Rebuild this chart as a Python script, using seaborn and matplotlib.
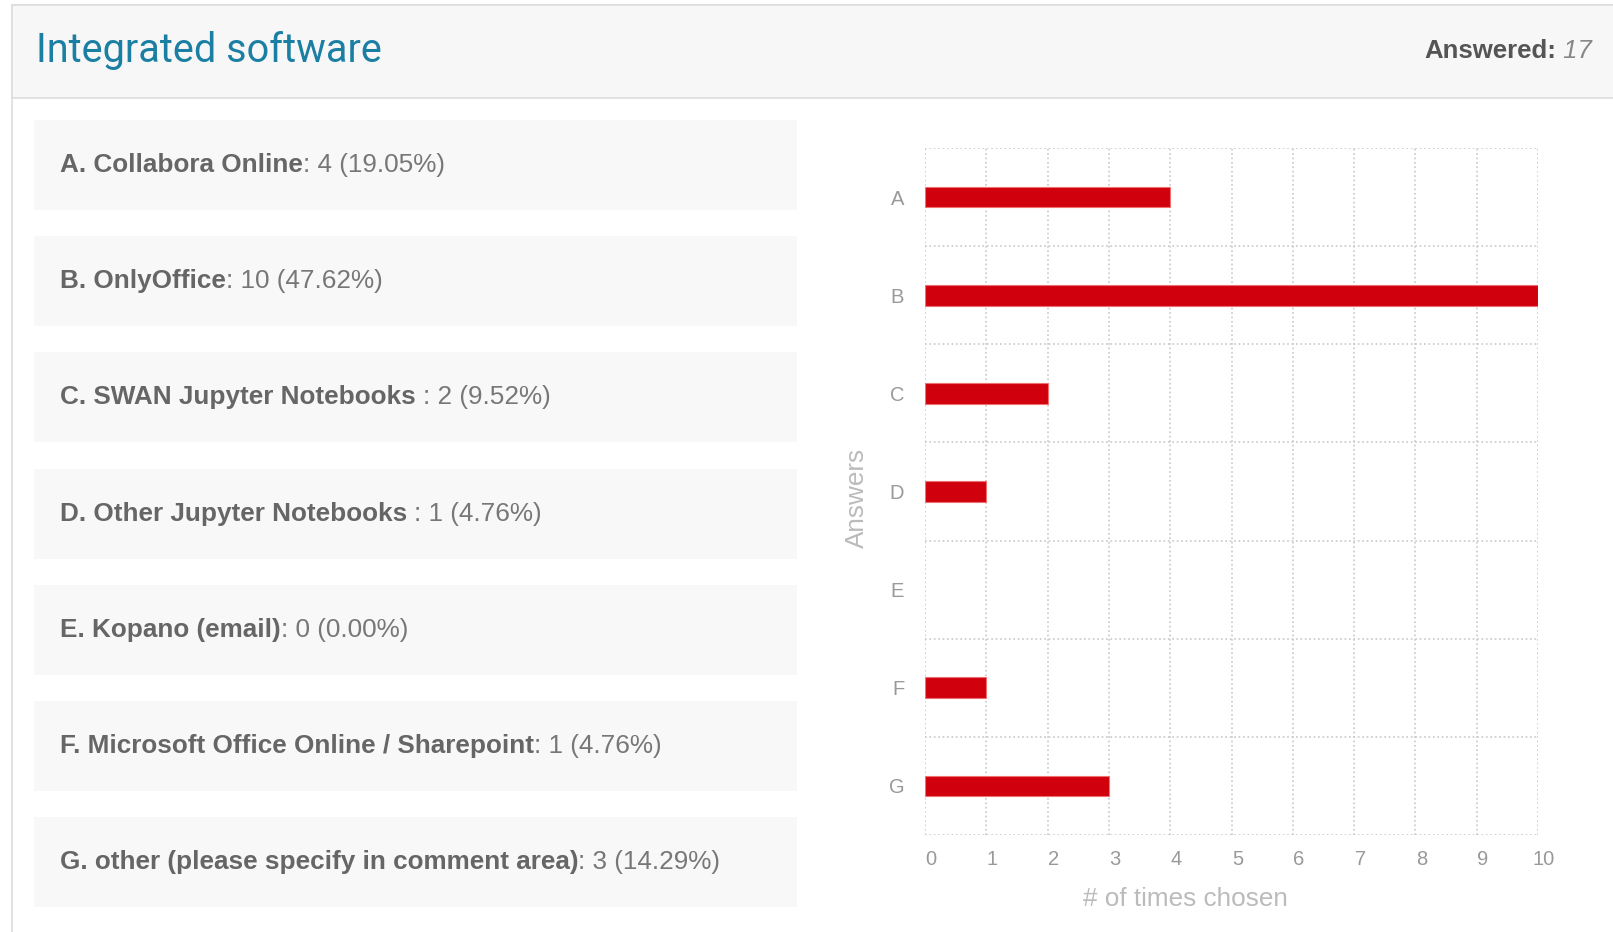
import numpy as np
import pandas as pd
import matplotlib
matplotlib.use("Agg")
import matplotlib.pyplot as plt
import matplotlib.transforms as mtransforms
import seaborn as sns
from matplotlib.patches import Rectangle

# survey answers
letters = ["A", "B", "C", "D", "E", "F", "G"]
answer_names = [
    "A. Collabora Online",
    "B. OnlyOffice",
    "C. SWAN Jupyter Notebooks ",
    "D. Other Jupyter Notebooks ",
    "E. Kopano (email)",
    "F. Microsoft Office Online / Sharepoint",
    "G. other (please specify in comment area)",
]
counts = [4, 10, 2, 1, 0, 1, 3]
percents = [19.05, 47.62, 9.52, 4.76, 0.00, 4.76, 14.29]
answered = 17
x_ticks = list(range(0, 11))

W, H = 1613, 932
sns.set_theme(style="white")
plt.rcParams["font.family"] = ["Liberation Sans", "DejaVu Sans"]

fig = plt.figure(figsize=(W / 100, H / 100), dpi=100)
fig.patch.set_facecolor("white")

# page layer in pixel coordinates
bg = fig.add_axes([0, 0, 1, 1])
bg.set_xlim(0, W)
bg.set_ylim(H, 0)
bg.axis("off")

# outer panel + header
bg.add_patch(Rectangle((12, 5), W, H, facecolor="white", edgecolor="#dddddd", lw=1.2))
bg.add_patch(Rectangle((12, 5), W, 93, facecolor="#f7f7f7", edgecolor="#dddddd", lw=1.2))
bg.text(36, 51, "Integrated software", color="#1a7fa3", fontsize=28.5,
        family=["Roboto", "DejaVu Sans"], va="center", ha="left")
t17 = bg.text(1592, 51, f" {answered}", color="#888888", fontsize=18.5, style="italic",
              va="center", ha="right")
fig.canvas.draw()
ext = t17.get_window_extent(fig.canvas.get_renderer())
x17 = bg.transData.inverted().transform((ext.x0, ext.y0))[0]
bg.text(x17, 51, "Answered:", color="#555555", fontsize=18.5, weight="bold",
        va="center", ha="right")

# answer boxes on the left
box_top, box_step, box_h = 120, 116.2, 90
for i, (name, c, p) in enumerate(zip(answer_names, counts, percents)):
    y = box_top + box_step * i
    bg.add_patch(Rectangle((34, y), 763, box_h, facecolor="#f8f8f8", edgecolor="none"))
    t = bg.text(60, y + box_h / 2, name, color="#666666", fontsize=18.8,
                weight="bold", va="center", ha="left")
    fig.canvas.draw()
    e = t.get_window_extent(fig.canvas.get_renderer())
    xr = bg.transData.inverted().transform((e.x1, e.y0))[0]
    bg.text(xr, y + box_h / 2, f": {c} ({p:.2f}%)", color="#777777", fontsize=18.8,
            va="center", ha="left")

# bar chart
df = pd.DataFrame({"answer": letters, "count": counts})
left, right, top, bottom = 925, 1538, 148, 835
ax = fig.add_axes([left / W, 1 - bottom / H, (right - left) / W, (bottom - top) / H])
ax.set_facecolor("none")
sns.barplot(data=df, x="count", y="answer", orient="h", color="#d0000c",
            saturation=1, width=0.21, edgecolor="#ef7070", linewidth=0.8, ax=ax)
for bar in ax.patches:
    if bar.get_width() == 0:
        bar.set_visible(False)
ax.set_xlim(0, 10)
ax.set_ylim(6.5, -0.5)
ax.set_xticks(x_ticks)
ax.set_yticks(np.arange(-0.5, 7, 1), minor=True)
ax.grid(axis="x", which="major", ls=":", color="#c8c8c8", lw=1.2)
ax.grid(axis="y", which="minor", ls=":", color="#c8c8c8", lw=1.2)
ax.set_axisbelow(True)
for s in ax.spines.values():
    s.set_visible(False)
ax.tick_params(axis="y", which="both", length=0, pad=15, labelsize=14.5, labelcolor="#999999")
ax.tick_params(axis="x", which="both", length=0, pad=11, labelsize=14.5, labelcolor="#999999")
# x tick labels sit a little right of their gridlines
shift = mtransforms.ScaledTranslation(6 / 100, 0, fig.dpi_scale_trans)
for lab in ax.get_xticklabels():
    lab.set_transform(lab.get_transform() + shift)
ax.set_xlabel("# of times chosen", color="#bbbbbb", fontsize=18.8, labelpad=12)
ax.xaxis.set_label_coords(0.425, -0.076)
ax.set_ylabel("Answers", color="#bbbbbb", fontsize=18.8, labelpad=14)
ax.yaxis.set_label_coords(-0.092, 0.49)

fig.savefig("out.png", dpi=100)
